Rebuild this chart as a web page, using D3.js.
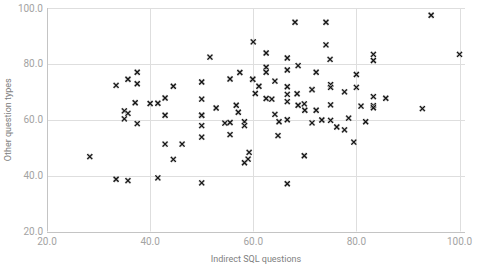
<!DOCTYPE html>
<html lang="en">
  <head>
    <meta charset="utf-8">
    <title>Indirect SQL vs other question types</title>
    <script src="https://d3js.org/d3.v7.min.js"></script>
    <style>
      body { margin: 0; background: #fff; }
      text { font-family: Roboto, Arial, sans-serif; }
      .tick-label { font-size: 10px; fill: #a3a3a3; }
      .axis-title { font-size: 9px; fill: #808080; }
    </style>
  </head>
  <body>
    <div id="chart"></div>
    <script>

      // x = indirect SQL questions, y = other question types
      var xValues = [
        33.4, 35.7, 37.5, 37.5, 37.1, 40.0, 41.5, 35.0, 35.7, 35.0,
        37.5, 42.9, 42.9, 44.5, 50.0, 50.0, 50.0, 50.0, 50.0, 50.0,
        42.9, 46.2, 28.3, 44.5, 33.4, 35.7, 41.5, 50.0,
        51.6, 60.0, 62.5, 66.6, 68.7, 62.5, 62.5, 66.6, 57.4, 72.2,
        55.5, 59.9, 59.9, 64.2, 61.1, 66.6, 71.4, 71.4, 60.4, 66.6,
        68.5, 62.5, 63.6, 66.6, 52.8, 56.7, 57.1, 68.7, 69.9, 70.0,
        72.2, 64.2, 65.0, 66.6, 71.4, 54.5, 55.5, 58.3, 58.3, 55.5,
        64.8, 59.2, 59.0, 58.3, 69.9, 66.6, 68.1,
        74.1, 74.1, 74.9, 83.3, 83.3, 100.0, 94.5, 80.0, 75.0, 75.0,
        77.7, 80.0, 83.3, 85.7, 75.0, 80.9, 83.3, 83.3, 92.8, 73.3,
        75.0, 76.2, 77.7, 78.5, 81.8, 79.5
      ];
      var yValues = [
        72.3, 74.5, 77.0, 72.9, 66.1, 65.8, 65.9, 63.2, 62.3, 60.3,
        58.6, 67.8, 61.6, 72.0, 73.5, 67.4, 61.6, 61.6, 57.9, 53.8,
        51.3, 51.3, 46.8, 45.8, 38.7, 38.2, 39.2, 37.4,
        82.4, 87.9, 83.9, 82.1, 79.4, 78.8, 77.0, 77.8, 76.9, 77.0,
        74.6, 74.5, 74.5, 73.8, 72.0, 71.8, 70.8, 70.8, 69.4, 69.1,
        69.3, 67.6, 67.4, 66.5, 64.2, 65.2, 62.7, 65.2, 65.7, 63.4,
        63.4, 61.9, 59.3, 60.0, 58.9, 58.8, 59.0, 59.3, 57.9, 54.7,
        54.3, 48.3, 45.9, 44.6, 47.1, 37.1, 94.9,
        94.9, 86.8, 81.6, 83.4, 81.2, 83.4, 97.4, 76.2, 72.6, 71.6,
        70.0, 71.6, 68.3, 67.7, 65.3, 64.9, 65.0, 64.3, 64.0, 59.9,
        59.8, 57.4, 56.4, 60.6, 59.3, 52.0
      ];

      var xTicks = [20, 40, 60, 80, 100];
      var yTicks = [20, 40, 60, 80, 100];

      var points = xValues.map(function(x, i){ return {x: x, y: yValues[i]}; });

      var width = 477;
      var height = 264;
      var margin = {top: 8, left: 47, right: 12, bottom: 33};

      var svg = d3.select("#chart")
        .append("svg")
        .attr("width", width)
        .attr("height", height);

      var xScale = d3.scaleLinear()
        .domain([20, 100])
        .range([margin.left, 459.5]);

      var yScale = d3.scaleLinear()
        .domain([20, 100])
        .range([height - margin.bottom + 0.5, margin.top]);

      var gridRight = width - margin.right;

      // horizontal gridlines
      svg.append("g")
        .selectAll("line")
        .data(yTicks)
        .enter()
        .append("line")
          .attr("x1", margin.left)
          .attr("x2", gridRight)
          .attr("y1", function(d){ return Math.round(yScale(d)) + 0.5; })
          .attr("y2", function(d){ return Math.round(yScale(d)) + 0.5; })
          .attr("stroke", function(d){ return d == 20 ? "#c4c4c4" : "#dedede"; })
          .attr("stroke-width", 1);

      // vertical gridlines
      svg.append("g")
        .selectAll("line")
        .data(xTicks)
        .enter()
        .append("line")
          .attr("x1", function(d){ return Math.round(xScale(d)) + 0.5; })
          .attr("x2", function(d){ return Math.round(xScale(d)) + 0.5; })
          .attr("y1", margin.top)
          .attr("y2", yScale(20))
          .attr("stroke", function(d){ return d == 20 ? "#c4c4c4" : "#dedede"; })
          .attr("stroke-width", 1);

      // tick labels
      svg.append("g")
        .selectAll("text")
        .data(yTicks)
        .enter()
        .append("text")
          .attr("class", "tick-label")
          .attr("x", margin.left - 4)
          .attr("y", function(d){ return yScale(d); })
          .attr("dy", "0.35em")
          .attr("text-anchor", "end")
          .text(function(d){ return d.toFixed(1); });

      svg.append("g")
        .selectAll("text")
        .data(xTicks)
        .enter()
        .append("text")
          .attr("class", "tick-label")
          .attr("x", function(d){ return xScale(d); })
          .attr("y", yScale(20) + 13)
          .attr("text-anchor", "middle")
          .text(function(d){ return d.toFixed(1); });

      // axis titles
      svg.append("text")
        .attr("class", "axis-title")
        .attr("x", 256)
        .attr("y", 262)
        .attr("text-anchor", "middle")
        .text("Indirect SQL questions");

      svg.append("text")
        .attr("class", "axis-title")
        .attr("transform", "rotate(-90)")
        .attr("x", -(margin.top + yScale(20)) / 2)
        .attr("y", 11)
        .attr("text-anchor", "middle")
        .text("Other question types");

      // markers
      var cross = d3.symbol().type(d3.symbolX).size(18);

      var marks = svg.append("g")
        .selectAll("g")
        .data(points)
        .enter()
        .append("g")
          .attr("transform", function(d){ return "translate(" + xScale(d.x) + "," + yScale(d.y) + ")"; });

      marks.append("path")
        .attr("d", cross)
        .attr("fill", "none")
        .attr("stroke", "#c8c8c8")
        .attr("stroke-width", 2.6);

      marks.append("path")
        .attr("d", cross)
        .attr("fill", "none")
        .attr("stroke", "#111")
        .attr("stroke-width", 1.2);

    </script>
  </body>
</html>
